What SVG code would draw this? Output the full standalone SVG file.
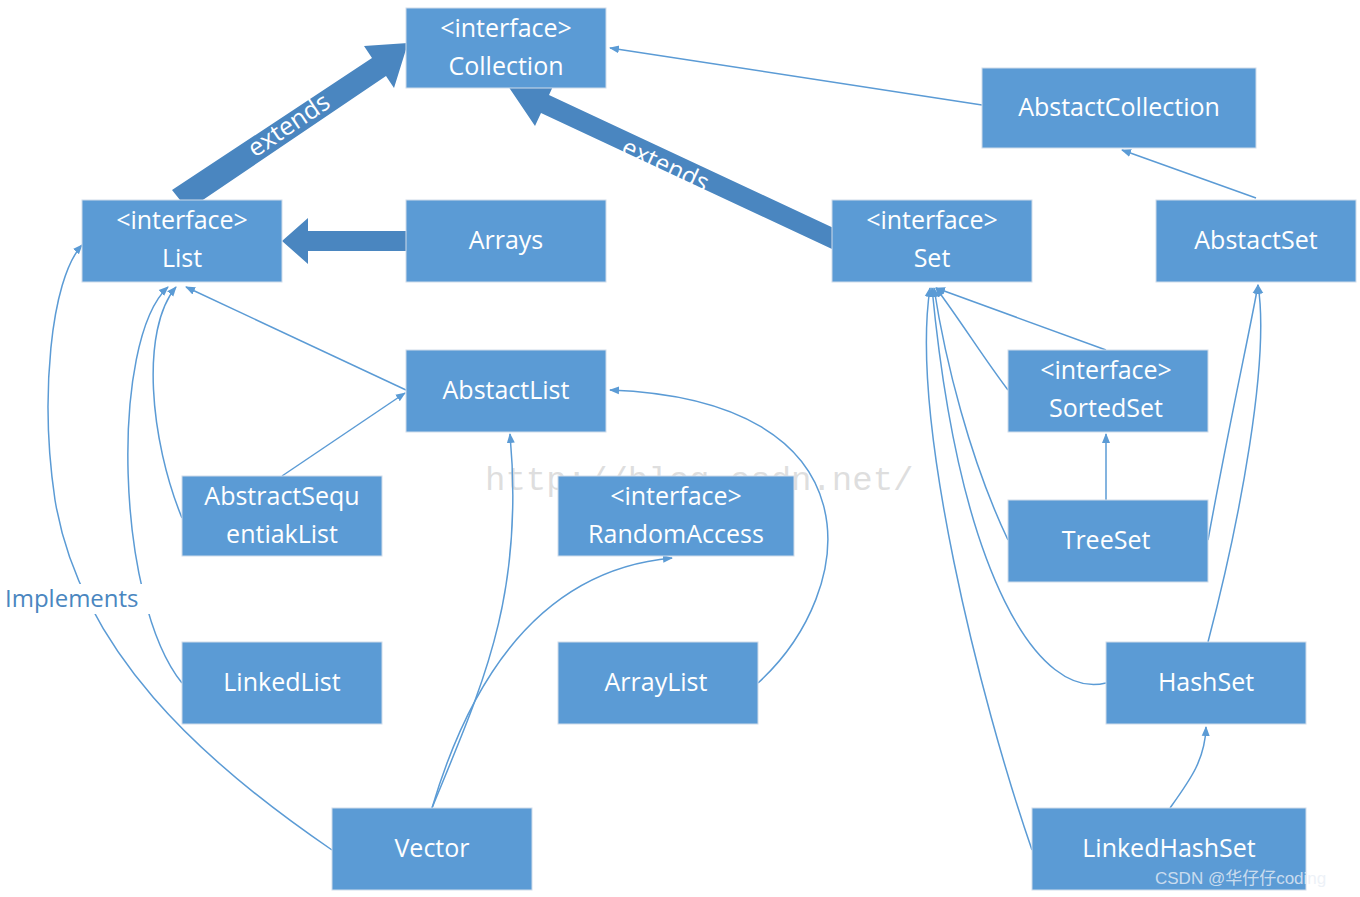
<svg xmlns="http://www.w3.org/2000/svg" width="1360" height="897" viewBox="0 0 1360 897">
<defs>
<style>
.n rect{fill:#5b9bd5;stroke:#d0dcea;stroke-width:1}
.n text{fill:#fff;font-family:"Open Sans","Liberation Sans",sans-serif;font-size:25px;text-anchor:middle}
.c path{fill:none;stroke:#5b9bd5;stroke-width:1.5;marker-end:url(#a)}
.fat{fill:#4a86c0}
.lbl{fill:#fff;font-family:"Open Sans","Liberation Sans",sans-serif;font-size:25px}
</style>
<marker id="a" markerWidth="10" markerHeight="10" refX="9" refY="5" orient="auto" markerUnits="userSpaceOnUse"><path d="M0,1 L10,5 L0,9 Z" fill="#5b9bd5"/></marker>
</defs>
<rect width="1360" height="897" fill="#fff"/>
<text x="485" y="490" font-family="Liberation Mono, monospace" font-size="34" fill="#c8c8c8" fill-opacity="0.6">http://blog.csdn.net/</text>
<g id="connectors" class="c">
<path d="M982,105 L610,48"/>
<path d="M1256,198 L1122,150"/>
<path d="M406,390 L186,287"/>
<path d="M282,476 L405,393"/>
<path d="M182,518 C150,440 140,330 176,287"/>
<path d="M182,683 C115,600 110,340 168,287"/>
<path d="M332,850 C200,760 80,650 55,500 C40,400 50,280 82,245"/>
<path d="M432,808 C480,690 525,600 510,434"/>
<path d="M432,808 C470,680 540,570 672,558"/>
<path d="M758,683 C860,590 880,400 610,390"/>
<path d="M1008,390 C985,360 960,320 936,288"/>
<path d="M1106,350 L936,288"/>
<path d="M1106,500 L1106,434"/>
<path d="M1008,540 C970,460 945,360 934,288"/>
<path d="M1208,540 C1230,420 1250,330 1258,285"/>
<path d="M1106,683 C1040,700 960,580 932,288"/>
<path d="M1208,642 C1240,520 1270,360 1258,285"/>
<path d="M1032,850 C980,700 910,420 930,288"/>
<path d="M1170,808 C1190,780 1205,760 1206,727"/>
</g>
<g id="fat-arrows">
<polygon class="fat" points="172,190 188,210 386,76 394,88 408,43 364,46 372,58"/>
<text class="lbl" transform="translate(255,158) rotate(-34)">extends</text>
<polygon class="fat" points="840,231 832,249 541,113 535,126 508,86 555,82 549,95"/>
<text class="lbl" transform="translate(620,153) rotate(25)">extends</text>
<polygon class="fat" points="408,231 408,251 308,251 308,264 282,241 308,218 308,231"/>
</g>
<rect x="3" y="584" width="154" height="30" fill="#fff"/>
<text x="5" y="607" font-family="Open Sans, Liberation Sans, sans-serif" font-size="24" fill="#4a86c0">Implements</text>
<g id="Collection" class="n"><rect x="406" y="8" width="200" height="80"/><text x="506" y="37">&lt;interface&gt;</text><text x="506" y="75">Collection</text></g>
<g id="AbstactCollection" class="n"><rect x="982" y="68" width="274" height="80"/><text x="1119" y="116">AbstactCollection</text></g>
<g id="List" class="n"><rect x="82" y="200" width="200" height="82"/><text x="182" y="229">&lt;interface&gt;</text><text x="182" y="267">List</text></g>
<g id="Arrays" class="n"><rect x="406" y="200" width="200" height="82"/><text x="506" y="249">Arrays</text></g>
<g id="Set" class="n"><rect x="832" y="200" width="200" height="82"/><text x="932" y="229">&lt;interface&gt;</text><text x="932" y="267">Set</text></g>
<g id="AbstactSet" class="n"><rect x="1156" y="200" width="200" height="82"/><text x="1256" y="249">AbstactSet</text></g>
<g id="AbstactList" class="n"><rect x="406" y="350" width="200" height="82"/><text x="506" y="399">AbstactList</text></g>
<g id="SortedSet" class="n"><rect x="1008" y="350" width="200" height="82"/><text x="1106" y="379">&lt;interface&gt;</text><text x="1106" y="417">SortedSet</text></g>
<g id="AbstractSequentiakList" class="n"><rect x="182" y="476" width="200" height="80"/><text x="282" y="505">AbstractSequ</text><text x="282" y="543">entiakList</text></g>
<g id="RandomAccess" class="n"><rect x="558" y="476" width="236" height="80"/><text x="676" y="505">&lt;interface&gt;</text><text x="676" y="543">RandomAccess</text></g>
<g id="TreeSet" class="n"><rect x="1008" y="500" width="200" height="82"/><text x="1106" y="549">TreeSet</text></g>
<g id="LinkedList" class="n"><rect x="182" y="642" width="200" height="82"/><text x="282" y="691">LinkedList</text></g>
<g id="ArrayList" class="n"><rect x="558" y="642" width="200" height="82"/><text x="656" y="691">ArrayList</text></g>
<g id="HashSet" class="n"><rect x="1106" y="642" width="200" height="82"/><text x="1206" y="691">HashSet</text></g>
<g id="Vector" class="n"><rect x="332" y="808" width="200" height="82"/><text x="432" y="857">Vector</text></g>
<g id="LinkedHashSet" class="n"><rect x="1032" y="808" width="274" height="82"/><text x="1169" y="857">LinkedHashSet</text></g>
<text x="1155" y="884" font-family="Liberation Sans, Noto Sans CJK SC, sans-serif" font-size="17" fill="#e8eef6" fill-opacity="0.8">CSDN @华仔仔coding</text>
</svg>
